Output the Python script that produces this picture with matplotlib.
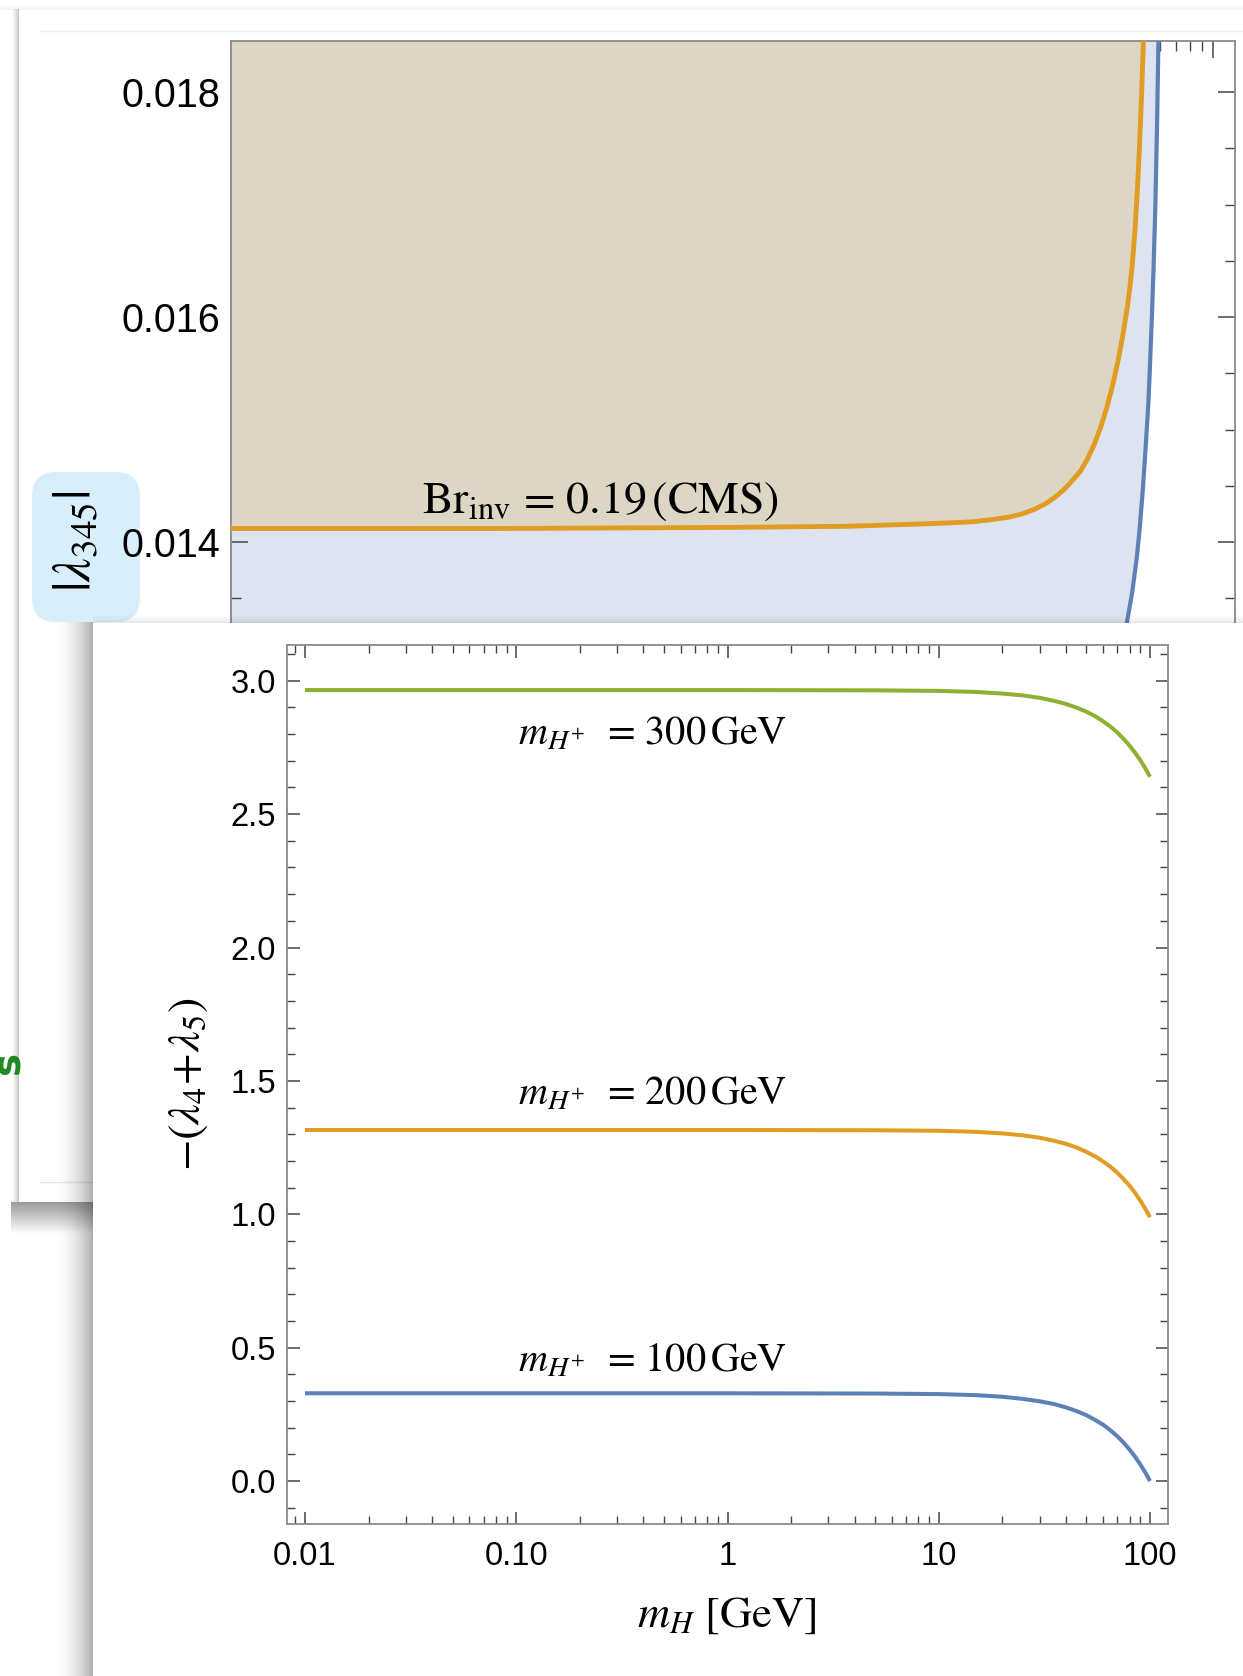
import numpy as np
import matplotlib
matplotlib.use("Agg")
import matplotlib.pyplot as plt
from matplotlib.patches import Rectangle, FancyBboxPatch
from matplotlib.ticker import FixedLocator, FixedFormatter, MultipleLocator, LogLocator, NullFormatter

plt.rcParams['mathtext.fontset'] = 'stix'
plt.rcParams['font.family'] = ['Liberation Sans', 'DejaVu Sans']

# ---------------- data ----------------
# background panel: |lambda_345| bounds vs m_H
bg_orange_m = [0.008, 0.1, 1, 3, 6, 8, 10, 12, 14, 16, 18, 20, 22, 24, 26, 28, 30, 32, 34,
               36, 38, 40, 42, 44, 45, 46, 47.3, 48.4, 49.3, 50.3, 51.24, 52]
bg_orange_lam = [0.01412, 0.01412, 0.01413, 0.01414, 0.01416, 0.01417, 0.01418, 0.01420,
                 0.01422, 0.01425, 0.01429, 0.01434, 0.01440, 0.01447, 0.01455, 0.01463,
                 0.01474, 0.01487, 0.01502, 0.01519, 0.01538, 0.01559, 0.01583, 0.01610,
                 0.01626, 0.01645, 0.01678, 0.01714, 0.01749, 0.01795, 0.01844, 0.01890]
bg_blue_m = [0.008, 10, 30, 38, 41, 43.7, 46, 48.1, 49.5, 50.9, 52.4, 53.8, 54.5, 55.5,
             56.5, 57.5, 58.4, 59.2, 60]
bg_blue_lam = [0.0115, 0.0116, 0.0122, 0.0127, 0.0130, 0.01328, 0.01355, 0.01386, 0.01413,
               0.01445, 0.01485, 0.01525, 0.01553, 0.01596, 0.01643, 0.01700, 0.01768,
               0.01845, 0.01930]
bg_yticks = [0.014, 0.016, 0.018]
bg_label = r'Br$_{\mathrm{inv}}$ = 0.19$\,$(CMS)'

# foreground panel: -(lambda4+lambda5) vs m_H
fg_mH = [0.01, 0.1, 1, 5, 10, 15, 20, 25, 30, 35, 40, 45, 50, 55, 60, 65, 70, 75, 80,
         85, 90, 95, 100]
fg_300 = [2.965, 2.965, 2.965, 2.964, 2.962, 2.958, 2.952, 2.945, 2.936, 2.925, 2.913,
          2.899, 2.884, 2.867, 2.848, 2.828, 2.806, 2.782, 2.757, 2.730, 2.702, 2.672, 2.640]
fg_200 = [1.316, 1.316, 1.316, 1.315, 1.313, 1.309, 1.303, 1.296, 1.287, 1.276, 1.264,
          1.250, 1.234, 1.217, 1.198, 1.178, 1.156, 1.132, 1.107, 1.080, 1.051, 1.021, 0.989]
fg_100 = [0.329, 0.329, 0.329, 0.328, 0.326, 0.322, 0.316, 0.308, 0.299, 0.289, 0.276,
          0.262, 0.247, 0.229, 0.211, 0.190, 0.168, 0.144, 0.118, 0.091, 0.062, 0.032, 0.000]
fg_labels = [r'$m_{H^{+}}$  = 300$\,$GeV', r'$m_{H^{+}}$  = 200$\,$GeV',
             r'$m_{H^{+}}$  = 100$\,$GeV']
fg_label_y = [2.759, 1.413, 0.409]
fg_xticks = [0.01, 0.1, 1, 10, 100]
fg_xticklabels = ['0.01', '0.10', '1', '10', '100']
fg_yticks = [0.0, 0.5, 1.0, 1.5, 2.0, 2.5, 3.0]

BLUE = '#5e81b5'
ORANGE = '#e19c24'
GREEN = '#8fb032'
SPINE = '#8a8a8a'
TICK = '#444444'
SERIF = ['STIXGeneral', 'Liberation Serif', 'DejaVu Serif']

W, H = 1243, 1676
fig = plt.figure(figsize=(W / 100, H / 100), dpi=100)
fig.patch.set_facecolor('white')


def rect(l, t, r, b):
    return [l / W, 1 - b / H, (r - l) / W, (b - t) / H]


def fy(Y):
    return H - Y


def hgrad(ax, x0, x1, Y0, Y1, a, power=2.0, z=1):
    n = 128
    t = np.linspace(0, 1, n) ** power
    arr = np.zeros((1, n, 4))
    arr[0, :, 3] = a * t
    ax.imshow(arr, extent=(x0, x1, fy(Y1), fy(Y0)), origin='lower', aspect='auto',
              interpolation='bilinear', zorder=z)


def vgrad(ax, x0, x1, Ytop, Ybot, a, dark_top=True, power=1.5, z=1):
    n = 128
    t = np.linspace(0, 1, n) ** power  # row 0 at bottom (origin lower)
    arr = np.zeros((n, 1, 4))
    arr[:, 0, 3] = a * (t if dark_top else t[::-1])
    ax.imshow(arr, extent=(x0, x1, fy(Ybot), fy(Ytop)), origin='lower', aspect='auto',
              interpolation='bilinear', zorder=z)


# ---------------- paper 1 : background card ----------------
p1 = fig.add_axes([0, 0, 1, 1], zorder=0)
p1.set_axis_off()
hgrad(p1, 11, 19, 10, 1202, 0.24, power=1.5)
vgrad(p1, 11, 93, 1202, 1234, 0.40, dark_top=True, power=1.0)
vgrad(p1, 0, W, 4, 10, 0.05, dark_top=False, power=1.0)
p1.plot([40, W], [fy(31), fy(31)], color='#efefef', lw=1.0)
p1.plot([40, 93], [fy(1182), fy(1182)], color='#e6e6e6', lw=1.0)
p1.add_patch(FancyBboxPatch((32 + 22, fy(622) + 22), 108 - 44, 150 - 44,
                            boxstyle='round,pad=22,rounding_size=24',
                            facecolor='#d9eefb', edgecolor='none', zorder=2))
p1.text(76, fy(541), r'$|\lambda_{345}|$', rotation=90, ha='center', va='center',
        fontsize=38, color='black', zorder=3)
p1.text(8, fy(1062), 's', rotation=90, ha='center', va='center', fontsize=28,
        fontweight='bold', color='#1e8a1e', family='DejaVu Sans', zorder=3)
p1.set_xlim(0, W)
p1.set_ylim(0, H)

# ---------------- background plot ----------------
axb = fig.add_axes(rect(231, 41.5, 1235, 767), zorder=1)
axb.set_xscale('log')
axb.fill_between(bg_blue_m, bg_blue_lam, 1.0, color='#dde3ef', lw=0, zorder=1)
axb.fill_between(bg_orange_m, bg_orange_lam, 1.0, color='#ded6c5', lw=0, zorder=2)
axb.plot(bg_blue_m, bg_blue_lam, color=BLUE, lw=3.0, zorder=3, solid_joinstyle='round')
axb.plot(bg_orange_m, bg_orange_lam, color=ORANGE, lw=3.5, zorder=4, solid_joinstyle='round')
axb.text(0.05, 0.014258, bg_label, ha='left', va='baseline', fontsize=33,
         family=SERIF, zorder=5)
axb.set_xlim(10 ** -2.0958, 10 ** 2.0917)
axb.set_ylim(0.012, 0.018449)
axb.yaxis.set_major_locator(FixedLocator(bg_yticks))
axb.yaxis.set_major_formatter(FixedFormatter(['%.3f' % v for v in bg_yticks]))
axb.yaxis.set_minor_locator(MultipleLocator(0.0005))
axb.xaxis.set_major_locator(LogLocator(base=10))
axb.xaxis.set_minor_locator(LogLocator(base=10, subs=np.arange(2, 10)))
axb.xaxis.set_minor_formatter(NullFormatter())
axb.tick_params(which='both', direction='in', top=True, right=True, color=TICK,
                labelsize=28.5, pad=8, labelbottom=False)
axb.tick_params(which='major', length=12, width=1.1)
axb.tick_params(which='minor', length=7, width=1.0)
for s in axb.spines.values():
    s.set_color(SPINE)
    s.set_linewidth(1.3)

# ---------------- paper 2 : foreground card ----------------
p2 = fig.add_axes([0, 0, 1, 1], zorder=2)
p2.set_axis_off()
p2.patch.set_alpha(0)
hgrad(p2, 50, 93, 623, H, 0.32, power=2.2)
vgrad(p2, 93, W, 612, 623, 0.10, dark_top=False, power=2.0)
p2.add_patch(Rectangle((93, 0), W - 93, fy(623), facecolor='white', edgecolor='none', zorder=3))
p2.set_xlim(0, W)
p2.set_ylim(0, H)

# ---------------- foreground plot ----------------
axf = fig.add_axes(rect(287, 645, 1168, 1524), zorder=3)
axf.set_xscale('log')
axf.plot(fg_mH, fg_300, color=GREEN, lw=2.9, solid_capstyle='butt')
axf.plot(fg_mH, fg_200, color=ORANGE, lw=2.9, solid_capstyle='butt')
axf.plot(fg_mH, fg_100, color=BLUE, lw=2.9, solid_capstyle='butt')
for lab, yv in zip(fg_labels, fg_label_y):
    axf.text(0.102, yv, lab, ha='left', va='baseline', fontsize=29, family=SERIF)
axf.set_xlim(10 ** -2.0852, 10 ** 2.0852)
axf.set_ylim(-0.161, 3.134)
axf.xaxis.set_major_locator(FixedLocator(fg_xticks))
axf.xaxis.set_major_formatter(FixedFormatter(fg_xticklabels))
axf.xaxis.set_minor_locator(LogLocator(base=10, subs=np.arange(2, 10)))
axf.xaxis.set_minor_formatter(NullFormatter())
axf.yaxis.set_major_locator(FixedLocator(fg_yticks))
axf.yaxis.set_major_formatter(FixedFormatter(['%.1f' % v for v in fg_yticks]))
axf.yaxis.set_minor_locator(MultipleLocator(0.1))
axf.tick_params(which='both', direction='in', top=True, right=True, color=TICK,
                labelsize=23.5)
axf.tick_params(axis='y', pad=8)
axf.tick_params(axis='x', pad=12)
axf.tick_params(which='major', length=9, width=1.1)
axf.tick_params(which='minor', length=5.5, width=1.0)
for s in axf.spines.values():
    s.set_color(SPINE)
    s.set_linewidth(1.3)

fig.text(188 / W, 1 - 1084 / H, r'$-(\lambda_4\!+\!\lambda_5)$', rotation=90,
         ha='center', va='center', fontsize=33, zorder=10)
fig.text(727 / W, 1 - 1616 / H, r'$m_H$ [GeV]', ha='center', va='center',
         fontsize=32, family=SERIF, zorder=10)

fig.savefig('out.png', dpi=100, facecolor='white')
